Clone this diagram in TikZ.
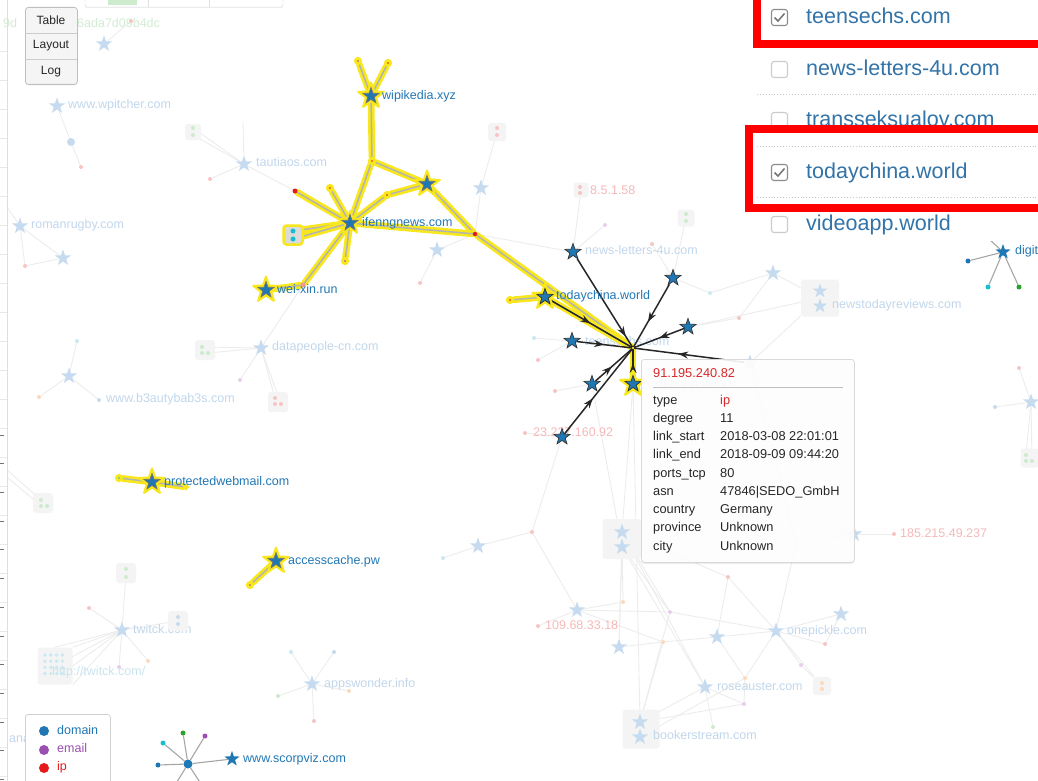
\documentclass[tikz,border=0pt]{standalone}
\usepackage{fontspec}
\setmainfont{Liberation Sans}
\usetikzlibrary{shapes.geometric,arrows.meta,decorations.markings,shadows}
\pgfdeclarelayer{lzero}
\pgfdeclarelayer{lone}
\pgfdeclarelayer{ltwo}
\pgfsetlayers{lzero,lone,ltwo,main}
\definecolor{dblue}{HTML}{1F77B4}
\definecolor{lblue}{HTML}{2278B5}
\definecolor{ipred}{HTML}{E41A1C}
\definecolor{epurple}{HTML}{9B4FB0}
\definecolor{hly}{HTML}{F8E71C}
\definecolor{hgray}{HTML}{B4B4B4}
\definecolor{fstarc}{HTML}{C6DBEF}
\definecolor{ftext}{HTML}{C2D7EC}
\definecolor{fredt}{HTML}{F6B9B9}
\definecolor{fredc}{HTML}{F7C4C4}
\definecolor{flinec}{HTML}{ECECEC}
\definecolor{fgreenc}{HTML}{CDEBCD}
\definecolor{fcyanc}{HTML}{CBE9F1}
\definecolor{forangec}{HTML}{FCD9B8}
\definecolor{fpurplec}{HTML}{E6CFEA}
\definecolor{fbluec}{HTML}{C6DBEF}
\definecolor{fboxc}{HTML}{F4F4F4}
\definecolor{fgtext}{HTML}{D3ECD3}
\definecolor{listblue}{HTML}{3273A8}
\definecolor{tipred}{HTML}{D62728}
\definecolor{cyanc}{HTML}{17BECF}
\definecolor{greenc}{HTML}{2CA02C}
\definecolor{redbox}{HTML}{FF0000}
\tikzset{
 lab/.style={anchor=west, inner sep=0pt, text height=9pt, text depth=2.5pt, font=\fontsize{12.5}{14}\selectfont, text=lblue},
 flab/.style={lab, text=ftext},
 frlab/.style={lab, text=fredt},
 starbase/.style={star, star points=5, star point ratio=2.5, inner sep=0pt, minimum size=17pt},
 dstar/.style={starbase, fill=dblue, draw=black!80, line width=0.7pt},
 pstar/.style={starbase, fill=dblue, minimum size=16pt},
 fstar/.style={starbase, fill=fstarc},
 glowstar/.style={starbase, fill=hly, draw=hly, line width=2pt, line join=round, minimum size=27pt},
 hdot/.style={circle, inner sep=0pt, minimum size=5pt, draw=hly, line width=3pt},
 sdot/.style={circle, inner sep=0pt, minimum size=5pt},
 hedge/.style={draw=hly, line width=2.6pt, double=hgray, double distance=1.5pt, line cap=round},
 fl/.style={draw=flinec, line width=0.85pt},
 gl/.style={draw=black!35, line width=1.1pt},
 fbox/.style={rounded corners=3pt, fill=fboxc, inner sep=0pt, minimum size=18pt},
 harr/.style={draw=black!85, line width=1.5pt, postaction={decorate}, decoration={markings, mark=at position #1 with {\arrow{Stealth[length=10pt,width=7pt]}}}},
 tk/.style={anchor=west, inner sep=0pt, text height=9pt, text depth=2.5pt, font=\fontsize{12.8}{14}\selectfont, text=black!85},
 lst/.style={anchor=west, inner sep=0pt, text height=15.5pt, text depth=4.3pt, font=\fontsize{21.5}{25}\selectfont, text=listblue},
 cbox/.style={draw=black!20, line width=1.1pt, rounded corners=2.5pt, minimum size=16pt, inner sep=0pt, fill=white},
}
\begin{document}
\begin{tikzpicture}[x=1pt,y=-1pt]
\useasboundingbox (0,0) rectangle (1038,781);
\clip (0,0) rectangle (1038,781);
\begin{pgfonlayer}{lzero}
\fill[white] (0,0) rectangle (1038,781);
\end{pgfonlayer}

% ================= faded background nodes =================
\begin{pgfonlayer}{lone}
\node[anchor=west, inner sep=0pt, font=\fontsize{12.5}{14}\selectfont, text=fgtext] (g1) at (3,23) {9d};
\node[anchor=west, inner sep=0pt, font=\fontsize{12.5}{14}\selectfont, text=fgtext] (g2) at (77,23) {6ada7d09b4dc};
\node[fstar] (fa1) at (104,44) {};
\node[sdot, fill=fredc, minimum size=4pt] (fa2) at (131,21) {};
\node[fstar] (wpt) at (57,106) {};
\node[flab] (lwpt) at (68,105) {www.wpitcher.com};
\node[sdot, fill=fbluec, minimum size=8pt] (wpt1) at (71,142) {};
\node[sdot, fill=fredc, minimum size=4pt] (wpt2) at (81,167) {};
\node[fbox, minimum size=16pt] (fb1) at (193,132) {};
\node[sdot, fill=fgreenc, minimum size=4pt] (fb1a) at (193,128) {};
\node[sdot, fill=fgreenc, minimum size=4pt] (fb1b) at (193,135) {};
\node[fstar] (taut) at (244,164) {};
\node[flab] (ltaut) at (256,163) {tautiaos.com};
\node[sdot, fill=fredc, minimum size=4pt] (ft1) at (210,179) {};
\coordinate (ft2) at (243,122);
\node[fstar] (rr) at (20,226) {};
\node[flab] (lrr) at (31,225) {romanrugby.com};
\node[fstar] (rr2) at (63,258) {};
\node[sdot, fill=fredc, minimum size=4pt] (rr3) at (25,266) {};
\coordinate (rr4) at (7,207);
\node[fstar] (b3) at (69,376) {};
\node[flab] (lb3) at (106,399) {www.b3autybab3s.com};
\node[sdot, fill=fcyanc, minimum size=4pt] (b3a) at (77,341) {};
\node[sdot, fill=forangec, minimum size=4pt] (b3b) at (39,397) {};
\node[sdot, fill=fbluec, minimum size=4pt] (b3c) at (99,400) {};
\node[fstar] (dp) at (261,348) {};
\node[flab] (ldp) at (272,347) {datapeople-cn.com};
\node[fbox, minimum size=20pt] (dpb1) at (205,350) {};
\node[sdot, fill=fgreenc, minimum size=4pt] (dpb1a) at (202,347) {};
\node[sdot, fill=fgreenc, minimum size=4pt] (dpb1b) at (202,353) {};
\node[sdot, fill=fgreenc, minimum size=4pt] (dpb1c) at (208,353) {};
\node[sdot, fill=fpurplec, minimum size=4pt] (dpp) at (240,380) {};
\node[fbox, minimum size=20pt] (dpb2) at (278,402) {};
\node[sdot, fill=fredc, minimum size=4pt] (dpb2a) at (275,398) {};
\node[sdot, fill=fredc, minimum size=4pt] (dpb2b) at (275,404) {};
\node[sdot, fill=fredc, minimum size=4pt] (dpb2c) at (281,404) {};
\node[fbox, minimum size=20pt] (flb) at (43,503) {};
\node[sdot, fill=fgreenc, minimum size=4pt] (flba) at (41,500) {};
\node[sdot, fill=fgreenc, minimum size=4pt] (flbb) at (41,506) {};
\node[sdot, fill=fgreenc, minimum size=4pt] (flbc) at (47,506) {};
\coordinate (flc1) at (7,470);
\coordinate (flc2) at (7,477);
% twitck
\node[fstar] (tw) at (122,630) {};
\node[flab] (ltw) at (133,630) {twitck.com};
\node[fbox, minimum size=20pt] (tw1) at (126,573) {};
\node[sdot, fill=fgreenc, minimum size=4pt] (tw1a) at (126,569) {};
\node[sdot, fill=fgreenc, minimum size=4pt] (tw1b) at (126,577) {};
\node[fbox, minimum size=20pt] (tw2) at (178,621) {};
\node[sdot, fill=fbluec, minimum size=4pt] (tw2a) at (178,617) {};
\node[sdot, fill=fbluec, minimum size=4pt] (tw2b) at (178,624) {};
\node[sdot, fill=fredc, minimum size=4pt] (twr) at (89,608) {};
\node[sdot, fill=forangec, minimum size=4pt] (two) at (148,661) {};
\node[sdot, fill=fpurplec, minimum size=4pt] (twp) at (119,667) {};
\node[fbox, minimum width=35pt, minimum height=37pt] (tw3) at (55,666) {};
\foreach \i in {0,...,3}{\foreach \j in {0,...,3}{\fill[fcyanc] (45+\i*5.8,655+\j*6.2) circle (1.9);}}
\node[lab, text=fcyanc!80!lblue!60] (ltw3) at (52,672) {http://twitck.com/};
% appswonder
\node[fstar] (aw) at (312,684) {};
\node[flab] (law) at (324,684) {appswonder.info};
\node[sdot, fill=fcyanc, minimum size=4pt] (aw1) at (291,652) {};
\node[sdot, fill=fbluec, minimum size=4pt] (aw2) at (334,652) {};
\node[sdot, fill=fgreenc, minimum size=4pt] (aw3) at (278,696) {};
\node[sdot, fill=forangec, minimum size=4pt] (aw4) at (349,691) {};
\node[sdot, fill=fredc, minimum size=4pt] (aw5) at (314,721) {};
\node[flab] (lana) at (9,739) {ana};
% middle
\node[fbox, minimum size=18pt] (fm1) at (497,132) {};
\node[sdot, fill=fredc, minimum size=4pt] (fm1a) at (497,128) {};
\node[sdot, fill=fredc, minimum size=4pt] (fm1b) at (497,135) {};
\node[fstar] (fm2) at (481,188) {};
\node[fstar] (fm3) at (437,250) {};
\node[sdot, fill=fredc, minimum size=4pt] (fm4) at (420,283) {};
\node[fbox, minimum size=15pt] (fm5) at (581,190) {};
\node[sdot, fill=fredc, minimum size=4pt] (fm5a) at (580,187) {};
\node[sdot, fill=fredc, minimum size=4pt] (fm5b) at (580,193) {};
\node[frlab] (lfm5) at (590,191) {8.5.1.58};
\node[fbox, minimum size=17pt] (fm6) at (686,218) {};
\node[sdot, fill=fgreenc, minimum size=4pt] (fm6a) at (686,214) {};
\node[sdot, fill=fgreenc, minimum size=4pt] (fm6b) at (686,221) {};
\node[fstar] (fm7) at (773,273) {};
\node[sdot, fill=fredc, minimum size=4pt] (fd1) at (739,318) {};
\node[sdot, fill=fcyanc, minimum size=4pt] (fd2) at (710,293) {};
\node[sdot, fill=fpurplec, minimum size=4pt] (fd3) at (605,225) {};
\node[sdot, fill=fredc, minimum size=4pt] (fd4) at (652,244) {};
\node[sdot, fill=fcyanc, minimum size=4pt] (fd5) at (534,338) {};
\node[sdot, fill=fredc, minimum size=4pt] (fd6) at (538,360) {};
\node[sdot, fill=fredc, minimum size=4pt] (fd7) at (555,391) {};
\node[flab] (lnl) at (585,251) {news-letters-4u.com};
\node[flab] (lts) at (585,342) {teensechs.com};
\node[flab] (lva) at (647,385) {videoapp.world};
\node[fbox, minimum width=38pt, minimum height=37pt] (nbox) at (820,298) {};
\node[fstar, minimum size=15pt] (nb1) at (820,291) {};
\node[fstar, minimum size=15pt] (nb2) at (820,306) {};
\node[flab] (lnb) at (832,305) {newstodayreviews.com};
\node[sdot, fill=fredc, minimum size=4pt] (f23) at (525,433) {};
\node[frlab] (lf23) at (533,433) {23.227.160.92};
\node[fstar] (fsx) at (750,363) {};
% right
\node[fstar] (rs) at (1031,402) {};
\node[sdot, fill=fbluec, minimum size=4pt] (rs1) at (995,407) {};
\node[sdot, fill=fredc, minimum size=4pt] (rs2) at (1019,368) {};
\node[fbox, minimum size=19pt] (rsb) at (1030,458) {};
\node[sdot, fill=fgreenc, minimum size=4pt] (rsba) at (1026,455) {};
\node[sdot, fill=fgreenc, minimum size=4pt] (rsbb) at (1026,461) {};
\node[sdot, fill=fgreenc, minimum size=4pt] (rsbc) at (1032,461) {};
% lower cluster
\node[fbox, minimum width=39pt, minimum height=40pt] (lb) at (622,539) {};
\node[fstar] (lbs1) at (622,532) {};
\node[fstar] (lbs2) at (622,547) {};
\node[fstar] (lst1) at (478,546) {};
\node[sdot, fill=fcyanc, minimum size=4pt] (lcy) at (443,558) {};
\node[sdot, fill=fredc, minimum size=4pt] (lr1) at (532,532) {};
\node[fstar] (l109) at (577,610) {};
\node[sdot, fill=fredc, minimum size=4pt] (lr109) at (538,626) {};
\node[frlab] (ll109) at (545,626) {109.68.33.18};
\node[sdot, fill=forangec, minimum size=4pt] (lor1) at (623,602) {};
\node[sdot, fill=fpurplec, minimum size=4pt] (lpu1) at (670,612) {};
\node[sdot, fill=forangec, minimum size=4pt] (lor2) at (663,642) {};
\node[fstar] (lst2) at (619,647) {};
\node[fstar] (lst3) at (717,637) {};
\node[sdot, fill=fredc, minimum size=4pt] (lr2) at (728,577) {};
\node[fstar] (op) at (776,631) {};
\node[flab] (lop) at (787,631) {onepickle.com};
\node[fstar] (lst4) at (841,614) {};
\node[sdot, fill=fredc, minimum size=4pt] (lr3) at (825,644) {};
\node[sdot, fill=fpurplec, minimum size=4pt] (lpu2) at (801,665) {};
\node[fbox, minimum size=18pt] (lbox2) at (822,686) {};
\node[sdot, fill=forangec, minimum size=4pt] (lbox2a) at (822,683) {};
\node[sdot, fill=forangec, minimum size=4pt] (lbox2b) at (822,689) {};
\node[sdot, fill=forangec, minimum size=4pt] (lor3) at (745,678) {};
\node[fstar] (rose) at (705,687) {};
\node[flab] (lrose) at (717,687) {roseauster.com};
\node[sdot, fill=fpurplec, minimum size=4pt] (lpu3) at (744,704) {};
\node[fbox, minimum width=37pt, minimum height=39pt] (bb) at (641,729) {};
\node[fstar] (bbs1) at (640,722) {};
\node[fstar] (bbs2) at (640,737) {};
\node[flab] (lbb) at (653,736) {bookerstream.com};
\node[sdot, fill=fgreenc, minimum size=4pt] (lgr) at (713,727) {};
\coordinate (lc796) at (796,543);
\node[fstar] (s185) at (854,534) {};
\node[sdot, fill=fredc, minimum size=4pt] (r185) at (894,534) {};
\node[frlab] (l185) at (900,534) {185.215.49.237};
\end{pgfonlayer}

% ================= highlighted nodes =================
\node[glowstar] (wipG) at (371,96) {};
\node[glowstar] (st2G) at (427,184) {};
\node[glowstar, minimum size=24pt] (ifnG) at (350,223) {};
\node[glowstar] (wxG) at (266,290) {};
\node[glowstar] (tcG) at (545,297) {};
\node[glowstar] (pwG) at (152,482) {};
\node[glowstar] (acG) at (276,561) {};
\node[glowstar] (s6G) at (633,384) {};
\node[dstar, draw=black!55] (wip) at (371,96) {};
\node[dstar, draw=black!55] (st2) at (427,184) {};
\node[dstar, draw=black!55] (ifn) at (350,223) {};
\node[dstar, draw=black!55] (wx) at (266,290) {};
\node[dstar] (tc) at (545,297) {};
\node[dstar, draw=black!55] (pw) at (152,482) {};
\node[dstar, draw=black!55] (ac) at (276,561) {};
\node[hdot, fill=epurple] (wpu) at (358,61) {};
\node[hdot, fill=ipred] (wpr) at (388,63) {};
\node[hdot, fill=ipred] (r1) at (372,161) {};
\node[hdot, fill=ipred] (r2) at (330,188) {};
\node[hdot, fill=ipred] (r3) at (387,195) {};
\node[sdot, fill=ipred] (r4) at (295,191) {};
\node[hdot, fill=epurple] (p1) at (345,261) {};
\node[sdot, fill=ipred!45] (r5) at (303,285) {};
\node[sdot, fill=ipred, minimum size=4.5pt] (r6) at (475,234) {};
\node[hdot, fill=ipred] (r7) at (510,300) {};
\node[rounded corners=3pt, fill=black!14, draw=hly, line width=2.5pt, minimum size=19pt, inner sep=0pt] (gbox) at (293,235) {};
\node[sdot, fill=cyanc] (gbd1) at (293,231) {};
\node[sdot, fill=cyanc] (gbd2) at (293,239) {};
\node[hdot, fill=cyanc] (pc) at (119,478) {};
\node[hdot, fill=ipred, minimum size=3pt, line width=2.5pt] (pr) at (186,487) {};
\node[hdot, fill=epurple] (ap) at (250,585) {};
\node[circle, inner sep=0pt, minimum size=2pt] (hub) at (633,348) {};
\node[dstar] (s1) at (573,252) {};
\node[dstar] (s2) at (673,278) {};
\node[dstar] (s3) at (688,327) {};
\node[dstar] (s4) at (572,341) {};
\node[dstar] (s5) at (592,384) {};
\node[dstar] (s6) at (633,384) {};
\node[dstar] (s7) at (562,437) {};
\node[lab] (lwip) at (382,96) {wipikedia.xyz};
\node[lab] (lifn) at (362,223) {ifenngnews.com};
\node[lab] (lwx) at (277,290) {wei-xin.run};
\node[lab] (ltc) at (556,296) {todaychina.world};
\node[lab] (lpw) at (164,482) {protectedwebmail.com};
\node[lab] (lac) at (288,561) {accesscache.pw};

% scorpviz cluster
\node[circle, fill=dblue, minimum size=9pt, inner sep=0pt] (sc) at (188,764) {};
\node[sdot, fill=cyanc] (sc1) at (163,743) {};
\node[sdot, fill=greenc] (sc2) at (183,733) {};
\node[sdot, fill=epurple] (sc3) at (205,736) {};
\node[sdot, fill=dblue] (sc4) at (158,765) {};
\node[pstar] (scs) at (232,759) {};
\node[lab] (lscs) at (243,759) {www.scorpviz.com};
\coordinate (sc5) at (172,790);
\coordinate (sc6) at (205,790);
% digit cluster
\node[pstar] (dg) at (1003,252) {};
\node[lab] (ldg) at (1015,251) {digit};
\node[sdot, fill=dblue] (dg1) at (968,261) {};
\node[sdot, fill=cyanc] (dg2) at (988,287) {};
\node[sdot, fill=greenc] (dg3) at (1019,287) {};
\coordinate (dg4) at (975,226);

% ================= faded edges =================
\begin{pgfonlayer}{lzero}
\draw[fl] (fa1) -- (fa2);
\draw[fl] (wpt) -- (wpt1) -- (wpt2);
\draw[fl] (taut) -- (fb1a); \draw[fl] (taut) -- (fb1b);
\draw[fl] (taut) -- (ft1); \draw[fl] (taut) -- (ft2); \draw[fl] (taut) -- (r4);
\draw[fl] (rr) -- (rr2) -- (rr3) -- (rr); \draw[fl] (rr) -- (rr4);
\draw[fl] (b3) -- (b3a); \draw[fl] (b3) -- (b3b); \draw[fl] (b3) -- (b3c);
\draw[fl] (dp) -- (dpb1a); \draw[fl] (dp) -- (dpb1c); \draw[fl] (dp) -- (dpp);
\draw[fl] (dp) -- (dpb2a); \draw[fl] (dp) -- (dpb2c); \draw[fl] (dp) -- (r5);
\draw[fl] (flc1) -- (flba); \draw[fl] (flc2) -- (flbb);
\draw[fl] (tw) -- (tw1); \draw[fl] (tw) -- (tw2); \draw[fl] (tw) -- (twr);
\draw[fl] (tw) -- (two); \draw[fl] (tw) -- (twp);
\draw[fl] (tw) -- (tw3.north east); \draw[fl] (tw) -- (tw3.east); \draw[fl] (tw) -- (tw3.south east); \draw[fl] (tw) -- (tw3.north); \draw[fl] (tw) -- (tw3.center);
\draw[fl] (aw) -- (aw1); \draw[fl] (aw) -- (aw2); \draw[fl] (aw) -- (aw3); \draw[fl] (aw) -- (aw4); \draw[fl] (aw) -- (aw5);
\draw[fl] (fm1) -- (fm2); \draw[fl] (fm2) -- (r6); \draw[fl] (fm3) -- (r6); \draw[fl] (fm3) -- (fm4);
\draw[fl] (r6) -- (s1); \draw[fl] (fm5) -- (s1); \draw[fl] (fm6) -- (s2);
\draw[fl] (s2) -- (fd2); \draw[fl] (fd2) -- (fm7); \draw[fl] (s3) -- (nbox); \draw[fl] (fsx) -- (nbox);
\draw[fl] (s3) -- (fd1); \draw[fl] (fd1) -- (fm7); \draw[fl] (s1) -- (fd3); \draw[fl] (fd4) -- (s2);
\draw[fl] (s4) -- (fd5); \draw[fl] (s4) -- (fd6); \draw[fl] (s5) -- (fd7); \draw[fl] (f23) -- (s7);
\draw[fl] (fm7) -- (nbox); \draw[fl] (fsx) -- (lc796);
\draw[fl] (lcy) -- (lst1) -- (lr1); \draw[fl] (lr1) -- (s7); \draw[fl] (lr1) -- (l109);
\draw[fl] (l109) -- (lr109); \draw[fl] (l109) -- (lor1); \draw[fl] (l109) -- (lpu1); \draw[fl] (l109) -- (lor2);
\draw[fl] (lor1) -- (lb); \draw[fl] (lb) -- (lst2); \draw[fl] (lst2) -- (lor2); \draw[fl] (lor2) -- (lst3);
\draw[fl] (lst3) -- (op); \draw[fl] (lpu1) -- (op); \draw[fl] (lbs1) -- (lpu1); \draw[fl] (lbs2) -- (lpu1);
\draw[fl] (lbs1) -- (rose); \draw[fl] (lbs2) -- (rose); \draw[fl] (lr2) -- (op); \draw[fl] (lr2) -- (lst3);
\draw[fl] (lr2) -- (lbs1); \draw[fl] (op) -- (lst4); \draw[fl] (op) -- (lr3) -- (lst4);
\draw[fl] (op) -- (lpu2) -- (lbox2); \draw[fl] (op) -- (lbox2); \draw[fl] (op) -- (lor3);
\draw[fl] (lst3) -- (lor3); \draw[fl] (lor3) -- (lpu3); \draw[fl] (rose) -- (lpu3); \draw[fl] (rose) -- (lgr);
\draw[fl] (bbs1) -- (rose); \draw[fl] (bbs1) -- (lpu3); \draw[fl] (bbs2) -- (lor3); \draw[fl] (bbs1) -- (lpu1);
\draw[fl] (bbs1) -- (lor2); \draw[fl] (op) -- (lc796); \draw[fl] (s185) -- (r185); \draw[fl] (s185) -- (lc796);
\draw[fl] (s6) -- (lbs1); \draw[fl] (s5) -- (lbs2); \draw[fl] (s6) -- (bbs1); \draw[fl] (lst2) -- (lbs2);
\draw[fl] (rs) -- (rs1); \draw[fl] (rs) -- (rs2); \draw[fl] (rs) -- (rsba); \draw[fl] (rs) -- (rsbc);
\end{pgfonlayer}

% ================= highlighted edges and arrows =================
\begin{pgfonlayer}{ltwo}
\draw[hedge] (wip) -- (wpu); \draw[hedge] (wip) -- (wpr); \draw[hedge] (wip) -- (r1);
\draw[hedge] (r1) -- (ifn); \draw[hedge] (r1) -- (st2); \draw[hedge] (st2) -- (r3);
\draw[hedge] (r3) -- (ifn); \draw[hedge] (st2) -- (r6); \draw[hedge] (ifn) -- (r6);
\draw[hedge] (ifn) -- (r2); \draw[hedge] (ifn) -- (r4); \draw[hedge] (ifn) -- (gbd1);
\draw[hedge] (ifn) -- (gbd2); \draw[hedge] (ifn) -- (p1); \draw[hedge] (ifn) -- (r5);
\draw[hedge] (r5) -- (wx); \draw[hedge] (r6) -- (hub); \draw[hedge] (tc) -- (r7);
\draw[hedge] (tc) -- (hub); \draw[hedge] (s6) -- (hub);
\draw[hedge] (pw) -- (pc); \draw[hedge] (pw) -- (pr); \draw[hedge] (ac) -- (ap);
\draw[harr=0.88] (s1) -- (hub);
\draw[harr=0.6] (s2) -- (hub);
\draw[harr=0.5] (s3) -- (hub);
\draw[harr=0.5] (s4) -- (hub);
\draw[harr=0.45] (s5) -- (hub);
\draw[harr=0.45] (s6) -- (hub);
\draw[harr=0.42] (s7) -- (hub);
\draw[harr=0.6] (fsx) -- (hub);
\draw[harr=0.5] (tc) -- (hub);
\draw[gl] (sc) -- (sc1); \draw[gl] (sc) -- (sc2); \draw[gl] (sc) -- (sc3); \draw[gl] (sc) -- (sc4);
\draw[gl] (sc) -- (scs); \draw[gl] (sc) -- (sc5); \draw[gl] (sc) -- (sc6);
\draw[gl] (dg) -- (dg1); \draw[gl] (dg) -- (dg2); \draw[gl] (dg) -- (dg3); \draw[gl] (dg) -- (dg4);
\end{pgfonlayer}

% ================= overlays =================
\draw[black!13, line width=1pt] (7,0) -- (7,781);
\foreach \y in {51,80,...,781}{\draw[black!9, line width=0.8pt] (0,\y) -- (7,\y);}
\foreach \y in {435,463.7,...,781}{\draw[black!55, line width=0.8pt] (0,\y) -- (3.5,\y);}

% top partial box
\filldraw[fill=white, draw=black!15, rounded corners=2pt, drop shadow={opacity=0.12, shadow xshift=0pt, shadow yshift=-1pt}] (85,-10) rectangle (283,7);
\fill[fgreenc] (108,-1) rectangle (137,5);
\draw[black!12] (148,0) -- (148,7);
\draw[black!12] (209,0) -- (209,7);

% buttons
\node[draw=black!25, line width=0.8pt, fill=black!4, rounded corners=3pt, minimum width=52pt, minimum height=77pt, inner sep=0pt, anchor=north west, drop shadow={opacity=0.12, shadow xshift=0pt, shadow yshift=-1pt}] (btn) at (25,7) {};
\draw[black!20, line width=0.8pt] (25,33) -- (77,33);
\draw[black!20, line width=0.8pt] (25,59) -- (77,59);
\node[font=\fontsize{12}{13}\selectfont, text=black!85, inner sep=0pt] (bt1) at (51,20) {Table};
\node[font=\fontsize{12}{13}\selectfont, text=black!85, inner sep=0pt] (bt2) at (51,46) {Layout};
\node[font=\fontsize{12}{13}\selectfont, text=black!85, inner sep=0pt] (bt3) at (51,72) {Log};

% tooltip
\node[draw=black!15, line width=0.8pt, fill=white, fill opacity=0.9, rounded corners=3pt, minimum width=213pt, minimum height=203pt, inner sep=0pt, anchor=north west, drop shadow={opacity=0.15, shadow xshift=0pt, shadow yshift=-1.5pt}] (tip) at (641,359) {};
\node[tk, text=tipred] (tt) at (653,374) {91.195.240.82};
\draw[black!25, line width=0.7pt] (653,387) -- (843,387);
\node[tk] (k1) at (653,401) {type};        \node[tk, text=tipred] (v1) at (720,401) {ip};
\node[tk] (k2) at (653,419) {degree};      \node[tk] (v2) at (720,419) {11};
\node[tk] (k3) at (653,437) {link\_start}; \node[tk] (v3) at (720,437) {2018-03-08 22:01:01};
\node[tk] (k4) at (653,455) {link\_end};   \node[tk] (v4) at (720,455) {2018-09-09 09:44:20};
\node[tk] (k5) at (653,474) {ports\_tcp};  \node[tk] (v5) at (720,474) {80};
\node[tk] (k6) at (653,492) {asn};         \node[tk] (v6) at (720,492) {47846|SEDO\_GmbH};
\node[tk] (k7) at (653,510) {country};     \node[tk] (v7) at (720,510) {Germany};
\node[tk] (k8) at (653,528) {province};    \node[tk] (v8) at (720,528) {Unknown};
\node[tk] (k9) at (653,547) {city};        \node[tk] (v9) at (720,547) {Unknown};

% legend
\node[draw=black!18, line width=0.8pt, fill=white, rounded corners=3pt, minimum width=85pt, minimum height=90pt, inner sep=0pt, anchor=north west] (leg) at (25,714) {};
\node[circle, fill=dblue, minimum size=10pt, inner sep=0pt] (lgd1) at (44,731) {};
\node[lab, text=dblue] (lgt1) at (57,731) {domain};
\node[circle, fill=epurple, minimum size=10pt, inner sep=0pt] (lgd2) at (44,750) {};
\node[lab, text=epurple] (lgt2) at (57,749) {email};
\node[circle, fill=ipred, minimum size=10pt, inner sep=0pt] (lgd3) at (44,768) {};
\node[lab, text=ipred] (lgt3) at (57,767) {ip};

% right list panel
\fill[white] (752,0) rectangle (1038,241);
\draw[black!22, dotted, line width=0.9pt] (757,94) -- (1038,94);
\draw[black!22, dotted, line width=0.9pt] (757,146) -- (1038,146);
\draw[black!22, dotted, line width=0.9pt] (757,197) -- (1038,197);
\node[cbox, draw=black!45] (cb1) at (779.5,17.5) {};
\draw[black!55, line width=1.5pt] (774.5,17.5) -- (778,21) -- (784.5,13.5);
\node[cbox] (cb2) at (779.5,69.5) {};
\node[cbox] (cb3) at (779.5,120.5) {};
\node[cbox, draw=black!45] (cb4) at (779.5,172.5) {};
\draw[black!55, line width=1.5pt] (774.5,172.5) -- (778,176) -- (784.5,168.5);
\node[cbox] (cb5) at (779.5,224.5) {};
\node[lst] (li1) at (806,18) {teensechs.com};
\node[lst] (li2) at (806,70) {news-letters-4u.com};
\node[lst] (li3) at (806,121) {transseksualov.com};
\node[lst] (li4) at (806,173) {todaychina.world};
\node[lst] (li5) at (806,225) {videoapp.world};
\draw[redbox, line width=8pt] (757,-20) rectangle (1060,44.5);
\draw[redbox, line width=8pt] (748.5,129) rectangle (1060,207.5);
\end{tikzpicture}
\end{document}
